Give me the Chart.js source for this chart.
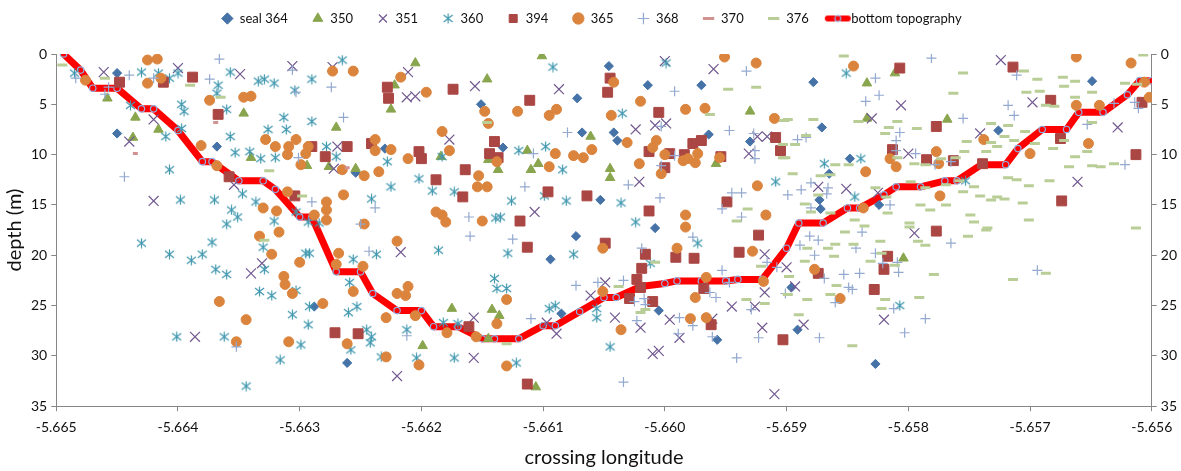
<!DOCTYPE html>
<html>
<head>
<meta charset="utf-8">
<script src="https://cdn.jsdelivr.net/npm/chart.js@4.4.1/dist/chart.umd.min.js"></script>
<style>
  html, body { margin: 0; padding: 0; background: #fff; }
  #wrap { position: relative; width: 1181px; height: 471px; }
</style>
</head>
<body>
<div id="wrap"><canvas id="depthChart"></canvas></div>
<script>
// ---- axis ticks ----
const xTickValues = [-5.665, -5.664, -5.663, -5.662, -5.661, -5.66, -5.659, -5.658, -5.657, -5.656];
const yTickValues = [0, 5, 10, 15, 20, 25, 30, 35];

// ---- dive positions: [crossing longitude, depth (m)] ----
const seal364 = [
  [-5.6645, 1.9], [-5.6645, 7.9], [-5.66368, 9.2], [-5.66254, 11.8], [-5.6623, 9.4], [-5.66288, 25.1],
  [-5.66261, 30.7], [-5.66151, 5.0], [-5.66133, 9.3], [-5.66072, 4.4], [-5.66046, 1.2], [-5.66014, 3.1],
  [-5.6597, 3.1], [-5.66068, 7.8], [-5.66042, 7.8], [-5.66039, 8.6], [-5.65964, 8.0], [-5.6593, 8.7],
  [-5.66053, 14.5], [-5.66008, 17.3], [-5.66073, 18.1], [-5.66094, 20.4], [-5.66005, 25.5], [-5.65957, 28.4],
  [-5.66085, 25.8], [-5.65878, 2.8], [-5.65649, 2.7], [-5.65726, 7.6], [-5.65871, 7.3], [-5.65848, 10.4],
  [-5.65865, 11.9], [-5.65873, 14.5], [-5.65872, 15.4], [-5.65824, 15.0], [-5.65896, 23.2], [-5.65891, 27.4],
  [-5.65827, 30.8]
];
const seal350 = [
  [-5.66458, 4.4], [-5.66435, 6.3], [-5.66437, 8.3], [-5.66416, 7.5], [-5.66346, 5.9], [-5.6634, 10.3],
  [-5.66294, 11.1], [-5.6627, 7.3], [-5.66276, 11.2], [-5.66254, 11.4], [-5.66222, 3.1], [-5.66225, 5.5],
  [-5.66205, 0.9], [-5.66146, 2.5], [-5.66101, 0.2], [-5.66184, 10.2], [-5.66145, 10.5], [-5.66137, 11.5],
  [-5.66113, 9.6], [-5.66104, 10.9], [-5.6611, 11.5], [-5.66061, 8.2], [-5.66045, 11.4], [-5.66045, 12.3],
  [-5.65958, 10.9], [-5.6593, 5.7], [-5.66175, 25.3], [-5.66142, 25.4], [-5.66136, 26.0], [-5.66145, 28.3],
  [-5.66199, 29.0], [-5.66106, 33.1], [-5.65834, 2.9], [-5.65811, 1.9], [-5.65834, 6.4], [-5.65768, 6.5],
  [-5.65804, 20.3]
];
const seal351 = [
  [-5.66461, 1.8], [-5.6644, 8.7], [-5.6642, 14.6], [-5.664, 1.4], [-5.6642, 6.5], [-5.66349, 2.0],
  [-5.66354, 13.0], [-5.66306, 1.2], [-5.66273, 1.3], [-5.66269, 9.2], [-5.66272, 11.4], [-5.66386, 28.1],
  [-5.6634, 21.8], [-5.66331, 20.8], [-5.6622, 32.0], [-5.66211, 1.8], [-5.66212, 4.3], [-5.66205, 4.2],
  [-5.66156, 3.2], [-5.66087, 3.5], [-5.66, 0.7], [-5.6596, 1.5], [-5.66177, 8.5], [-5.66024, 7.5],
  [-5.66008, 7.1], [-5.65999, 6.9], [-5.65924, 8.2], [-5.65916, 8.2], [-5.65931, 9.9], [-5.66021, 12.7],
  [-5.66107, 15.7], [-5.66217, 19.7], [-5.66049, 22.7], [-5.66061, 24.0], [-5.66041, 26.2], [-5.6602, 27.2],
  [-5.65996, 26.4], [-5.65988, 28.2], [-5.6601, 29.8], [-5.66005, 29.5], [-5.65961, 26.3], [-5.65945, 25.1],
  [-5.65926, 25.1], [-5.6592, 27.2], [-5.6591, 33.8], [-5.65918, 19.9], [-5.65918, 23.7], [-5.66157, 26.2],
  [-5.66157, 30.2], [-5.66089, 27.8], [-5.66097, 26.7], [-5.65724, 0.6], [-5.65698, 4.8], [-5.65628, 7.3],
  [-5.65661, 12.7], [-5.65741, 7.9], [-5.6583, 6.4], [-5.65806, 5.1], [-5.658, 9.9], [-5.65874, 13.2],
  [-5.65851, 13.4], [-5.65825, 13.8], [-5.65795, 17.8], [-5.659, 21.2], [-5.65893, 23.1], [-5.65886, 26.9],
  [-5.6582, 26.4]
];
const seal360 = [
  [-5.66485, 1.9], [-5.66439, 5.1], [-5.6643, 18.8], [-5.66416, 1.9], [-5.6643, 1.8], [-5.66407, 2.4],
  [-5.664, 1.9], [-5.6641, 8.2], [-5.66407, 11.5], [-5.66397, 5.0], [-5.66395, 5.7], [-5.66397, 7.4],
  [-5.66398, 14.5], [-5.66367, 3.1], [-5.66368, 3.9], [-5.6636, 5.5], [-5.66357, 1.8], [-5.66357, 8.2],
  [-5.66353, 9.8], [-5.66341, 9.7], [-5.66347, 13.9], [-5.6637, 14.5], [-5.66356, 15.5], [-5.66351, 16.2],
  [-5.6636, 16.9], [-5.66372, 18.7], [-5.66334, 2.7], [-5.66329, 2.5], [-5.66321, 2.9], [-5.66332, 10.4],
  [-5.66326, 7.5], [-5.6632, 10.3], [-5.66336, 14.7], [-5.66321, 16.6], [-5.66313, 6.3], [-5.66311, 7.5],
  [-5.6629, 2.5], [-5.66304, 3.6], [-5.6629, 6.7], [-5.66303, 15.7], [-5.66293, 16.7], [-5.66284, 16.8],
  [-5.66265, 0.6], [-5.66278, 9.2], [-5.6627, 10.2], [-5.66241, 14.4], [-5.66228, 10.7], [-5.66225, 13.2],
  [-5.66407, 19.9], [-5.66389, 20.5], [-5.6638, 19.9], [-5.66369, 21.4], [-5.6636, 21.9], [-5.66401, 28.1],
  [-5.66362, 28.1], [-5.66344, 33.0], [-5.66329, 21.4], [-5.66333, 23.6], [-5.66323, 24.0], [-5.6633, 19.2],
  [-5.66303, 23.5], [-5.66306, 25.9], [-5.66299, 28.9], [-5.66316, 30.4], [-5.66295, 19.8], [-5.66292, 19.8],
  [-5.66292, 25.1], [-5.66293, 26.9], [-5.66256, 20.4], [-5.66259, 22.7], [-5.66253, 25.1], [-5.6626, 25.7],
  [-5.66258, 29.4], [-5.66245, 27.4], [-5.66241, 28.1], [-5.66242, 28.7], [-5.66233, 30.1], [-5.66237, 19.9],
  [-5.66092, 1.3], [-5.65999, 0.9], [-5.66035, 5.9], [-5.66183, 10.2], [-5.6612, 9.6], [-5.66098, 9.2],
  [-5.66084, 11.5], [-5.66202, 12.4], [-5.66191, 13.6], [-5.66173, 13.7], [-5.66126, 14.6], [-5.66099, 14.1],
  [-5.66081, 14.6], [-5.66036, 14.8], [-5.66024, 16.7], [-5.65909, 12.7], [-5.66139, 16.3], [-5.66135, 16.2],
  [-5.66186, 19.5], [-5.66129, 19.8], [-5.66075, 19.9], [-5.65973, 18.8], [-5.66012, 20.8], [-5.66056, 26.2],
  [-5.66056, 25.3], [-5.66045, 29.1], [-5.66122, 30.7], [-5.66138, 23.3], [-5.6613, 23.3], [-5.6614, 22.3],
  [-5.66173, 30.2], [-5.66182, 26.7], [-5.6617, 26.8], [-5.66212, 27.4], [-5.66204, 30.2], [-5.66095, 25.3],
  [-5.6609, 25.0], [-5.65851, 1.9], [-5.65839, 10.4], [-5.65869, 10.9], [-5.65844, 14.2], [-5.65807, 25.0],
  [-5.65753, 12.6]
];
const seal394 = [
  [-5.66448, 2.8], [-5.66412, 2.8], [-5.66388, 2.3], [-5.66367, 6.0], [-5.66358, 12.2], [-5.6629, 9.2],
  [-5.66304, 14.1], [-5.66261, 9.2], [-5.66279, 10.2], [-5.66241, 8.9], [-5.66228, 3.3], [-5.66227, 4.4],
  [-5.66271, 27.7], [-5.66252, 27.8], [-5.66174, 3.5], [-5.66111, 4.6], [-5.66045, 2.4], [-5.66047, 3.8],
  [-5.66005, 5.8], [-5.66202, 9.7], [-5.662, 10.4], [-5.6614, 8.7], [-5.66144, 9.9], [-5.66137, 10.3],
  [-5.66188, 12.5], [-5.66164, 11.5], [-5.66166, 14.2], [-5.66096, 13.7], [-5.66064, 14.1], [-5.66, 11.3],
  [-5.66013, 9.7], [-5.65996, 9.9], [-5.65984, 10.0], [-5.65977, 8.9], [-5.6597, 8.6], [-5.65954, 10.2],
  [-5.65909, 8.3], [-5.65905, 9.6], [-5.65949, 14.7], [-5.66013, 15.6], [-5.66119, 16.6], [-5.66113, 19.2],
  [-5.66049, 18.8], [-5.65991, 20.2], [-5.65976, 20.3], [-5.66016, 19.9], [-5.66019, 21.3], [-5.66023, 22.4],
  [-5.6602, 23.2], [-5.66029, 24.3], [-5.6601, 24.6], [-5.65962, 26.9], [-5.65968, 23.3], [-5.65939, 19.7],
  [-5.65923, 18.0], [-5.65903, 28.4], [-5.66161, 27.1], [-5.66113, 32.8], [-5.65807, 1.4], [-5.65714, 1.3],
  [-5.65608, 4.8], [-5.65683, 4.6], [-5.65613, 10.0], [-5.65674, 14.6], [-5.65675, 8.4], [-5.65739, 10.9],
  [-5.65777, 7.2], [-5.65785, 10.5], [-5.65763, 10.6], [-5.65813, 9.5], [-5.65777, 17.6], [-5.65817, 20.1],
  [-5.6582, 21.4], [-5.65828, 23.4], [-5.65874, 21.8]
];
const seal365 = [
  [-5.66476, 2.6], [-5.66425, 0.6], [-5.66417, 0.5], [-5.66425, 2.9], [-5.66414, 2.4], [-5.66374, 4.6],
  [-5.66381, 9.1], [-5.66368, 11.1], [-5.66346, 4.3], [-5.6634, 4.2], [-5.66328, 8.5], [-5.6632, 9.2],
  [-5.6633, 15.3], [-5.66319, 15.6], [-5.66317, 17.7], [-5.66333, 18.1], [-5.66303, 8.5], [-5.66309, 9.2],
  [-5.6631, 10.0], [-5.66293, 9.2], [-5.66295, 9.9], [-5.66299, 11.0], [-5.6631, 13.7], [-5.66288, 16.0],
  [-5.66273, 1.7], [-5.66256, 1.7], [-5.66265, 11.5], [-5.66247, 12.1], [-5.66264, 14.0], [-5.66247, 16.9],
  [-5.66278, 14.7], [-5.66278, 15.5], [-5.66278, 16.5], [-5.66238, 8.5], [-5.66238, 9.6], [-5.66225, 9.5],
  [-5.66235, 11.7], [-5.66366, 24.6], [-5.66352, 28.6], [-5.66344, 26.4], [-5.66323, 19.9], [-5.66313, 22.1],
  [-5.66312, 22.9], [-5.66306, 23.8], [-5.66309, 28.6], [-5.663, 20.7], [-5.66281, 24.8], [-5.66268, 19.8],
  [-5.6627, 20.9], [-5.66248, 21.1], [-5.66256, 23.6], [-5.66261, 28.8], [-5.66229, 30.1], [-5.66229, 26.2],
  [-5.6622, 23.8], [-5.6622, 18.6], [-5.66217, 2.3], [-5.66196, 3.8], [-5.66148, 5.7], [-5.66145, 6.9],
  [-5.66121, 5.7], [-5.66095, 6.1], [-5.66089, 5.5], [-5.66042, 2.8], [-5.6602, 4.7], [-5.66044, 6.1],
  [-5.65951, 0.3], [-5.65925, 0.9], [-5.65983, 5.5], [-5.65967, 5.4], [-5.6591, 6.4], [-5.66031, 8.8],
  [-5.66183, 7.7], [-5.66177, 9.6], [-5.66211, 10.4], [-5.66138, 10.7], [-5.6609, 9.9], [-5.66075, 10.1],
  [-5.66067, 10.3], [-5.6606, 9.5], [-5.66095, 11.2], [-5.66153, 12.1], [-5.66154, 13.2], [-5.66146, 13.2],
  [-5.6601, 9.3], [-5.66007, 8.6], [-5.66, 10.0], [-5.66021, 10.9], [-5.66003, 11.9], [-5.65985, 10.6],
  [-5.65981, 10.4], [-5.65975, 10.8], [-5.65973, 9.9], [-5.65955, 10.3], [-5.65924, 13.1], [-5.65917, 16.0],
  [-5.65983, 16.0], [-5.65983, 17.2], [-5.66188, 15.7], [-5.66183, 16.0], [-5.6618, 16.7], [-5.6615, 16.6],
  [-5.66051, 19.3], [-5.6599, 19.3], [-5.66051, 23.6], [-5.66036, 27.4], [-5.65979, 26.3], [-5.65966, 26.2],
  [-5.65975, 24.2], [-5.65966, 22.2], [-5.65928, 19.6], [-5.65919, 22.6], [-5.6613, 31.0], [-5.66138, 26.8],
  [-5.6613, 24.4], [-5.66155, 28.1], [-5.66179, 27.7], [-5.66205, 26.0], [-5.66202, 30.9], [-5.66213, 24.0],
  [-5.66211, 23.1], [-5.65845, 1.2], [-5.65662, 0.3], [-5.65617, 0.9], [-5.65606, 2.8], [-5.65602, 4.3],
  [-5.65662, 5.1], [-5.65643, 5.1], [-5.65652, 8.9], [-5.657, 9.9], [-5.65738, 8.5], [-5.65777, 9.7],
  [-5.65775, 10.9], [-5.65774, 14.1], [-5.65815, 10.4], [-5.6581, 11.2], [-5.65835, 11.7], [-5.65837, 15.3],
  [-5.65877, 21.4], [-5.65856, 24.3]
];
const seal368 = [
  [-5.66484, 2.4], [-5.66457, 3.3], [-5.6646, 4.0], [-5.66444, 12.2], [-5.6642, 2.4], [-5.6644, 2.1],
  [-5.66374, 2.5], [-5.66366, 0.5], [-5.66306, 1.6], [-5.66303, 3.8], [-5.66301, 10.3], [-5.6629, 14.7],
  [-5.66274, 3.3], [-5.66264, 6.3], [-5.6625, 16.9], [-5.66238, 15.3], [-5.66352, 29.1], [-5.66243, 19.6],
  [-5.65992, 3.7], [-5.65933, 1.7], [-5.6608, 7.8], [-5.66003, 7.2], [-5.65947, 7.6], [-5.65927, 7.9],
  [-5.65926, 9.6], [-5.65926, 10.4], [-5.66108, 9.9], [-5.66115, 13.2], [-5.6603, 13.0], [-5.66004, 14.3],
  [-5.65992, 10.1], [-5.66003, 11.1], [-5.65945, 13.8], [-5.65937, 13.8], [-5.65953, 15.4], [-5.65937, 16.2],
  [-5.66161, 16.2], [-5.6616, 18.1], [-5.66125, 18.4], [-5.65977, 18.2], [-5.66019, 19.3], [-5.66055, 22.7],
  [-5.66034, 22.5], [-5.66034, 32.6], [-5.66025, 24.6], [-5.66017, 24.3], [-5.66016, 24.9], [-5.66023, 26.5],
  [-5.65988, 26.2], [-5.65989, 27.8], [-5.65977, 27.0], [-5.65961, 28.1], [-5.65941, 30.2], [-5.65963, 23.7],
  [-5.65958, 24.2], [-5.65953, 21.5], [-5.65947, 22.7], [-5.65929, 25.4], [-5.65923, 28.2], [-5.65916, 20.7],
  [-5.65908, 21.2], [-5.66212, 28.0], [-5.6611, 26.3], [-5.66073, 23.0], [-5.65827, 2.4], [-5.65781, 0.4],
  [-5.65711, 2.1], [-5.65622, 11.0], [-5.65653, 7.0], [-5.65718, 5.1], [-5.65713, 6.1], [-5.65755, 6.4],
  [-5.65778, 11.0], [-5.65765, 10.7], [-5.65835, 4.7], [-5.65824, 4.1], [-5.65807, 7.8], [-5.6581, 8.6],
  [-5.6581, 9.6], [-5.65794, 9.9], [-5.65891, 8.5], [-5.65884, 8.3], [-5.65899, 14.0], [-5.65888, 13.5],
  [-5.6588, 12.8], [-5.65866, 13.3], [-5.65867, 13.9], [-5.65815, 15.0], [-5.6588, 15.3], [-5.65881, 18.1],
  [-5.65874, 18.5], [-5.65889, 19.0], [-5.65877, 20.0], [-5.65869, 22.3], [-5.65843, 19.3], [-5.65838, 17.7],
  [-5.65853, 21.9], [-5.6584, 21.8], [-5.65849, 23.2], [-5.65846, 23.4], [-5.6586, 24.7], [-5.65827, 19.8],
  [-5.65821, 20.8], [-5.65809, 20.7], [-5.65808, 21.7], [-5.65901, 23.8], [-5.65873, 28.2], [-5.65812, 25.3],
  [-5.65803, 27.7], [-5.65786, 26.3], [-5.65765, 18.8], [-5.65694, 21.5], [-5.65614, 4.8], [-5.65611, 5.4],
  [-5.65631, 4.9]
];
const seal370 = [
  [-5.66435, 9.9], [-5.66369, 6.8], [-5.66261, 11.3]
];
const seal376 = [
  [-5.66495, 1.1], [-5.6646, 2.4], [-5.6639, 3.1], [-5.66365, 4.3], [-5.66325, 11.6], [-5.66329, 18.5],
  [-5.66298, 14.1], [-5.66146, 6.8], [-5.6613, 28.8], [-5.66008, 20.7], [-5.66038, 23.1], [-5.6602, 25.7],
  [-5.66016, 25.4], [-5.65948, 3.5], [-5.65925, 3.3], [-5.65963, 6.0], [-5.65902, 6.6], [-5.65903, 9.0],
  [-5.65903, 10.3], [-5.65932, 15.4], [-5.65941, 16.6], [-5.65933, 24.4], [-5.65918, 24.8], [-5.65921, 21.1],
  [-5.65853, 0.2], [-5.65755, 1.9], [-5.65763, 3.9], [-5.65705, 1.7], [-5.65673, 2.3], [-5.65672, 3.2],
  [-5.65663, 2.7], [-5.65694, 2.5], [-5.65692, 3.7], [-5.65703, 3.8], [-5.65649, 3.8], [-5.65622, 2.9],
  [-5.65612, 3.0], [-5.65607, 0.1], [-5.65663, 4.3], [-5.65687, 5.1], [-5.6568, 5.2], [-5.65649, 6.8],
  [-5.65732, 6.9], [-5.65718, 7.1], [-5.65704, 7.7], [-5.65721, 8.2], [-5.65732, 8.8], [-5.65736, 9.7],
  [-5.65752, 8.7], [-5.65793, 7.4], [-5.65816, 7.3], [-5.65809, 6.7], [-5.65819, 7.9], [-5.65841, 6.7],
  [-5.65878, 6.5], [-5.65899, 6.5], [-5.65884, 8.1], [-5.65893, 9.0], [-5.65901, 10.3], [-5.6586, 11.0],
  [-5.65849, 11.0], [-5.65895, 11.9], [-5.65872, 12.1], [-5.65864, 12.0], [-5.65809, 10.3], [-5.65795, 10.9],
  [-5.65786, 11.0], [-5.65773, 10.4], [-5.65761, 10.3], [-5.65754, 9.7], [-5.65727, 9.2], [-5.65713, 8.6],
  [-5.65696, 8.9], [-5.65681, 9.4], [-5.65672, 8.6], [-5.65653, 9.7], [-5.65663, 10.2], [-5.65668, 11.2],
  [-5.65649, 11.1], [-5.65642, 11.2], [-5.65631, 10.9], [-5.65718, 12.3], [-5.65711, 12.5], [-5.65701, 13.1],
  [-5.65684, 12.6], [-5.65746, 13.2], [-5.65755, 13.7], [-5.65769, 13.0], [-5.65786, 13.3], [-5.65798, 12.7],
  [-5.65758, 12.6], [-5.65769, 15.0], [-5.6579, 15.0], [-5.65782, 15.5], [-5.65741, 14.1], [-5.65727, 14.2],
  [-5.65721, 14.4], [-5.65706, 14.8], [-5.65732, 14.5], [-5.65749, 16.0], [-5.65746, 16.7], [-5.65735, 17.3],
  [-5.65701, 16.5], [-5.65799, 16.8], [-5.65836, 17.1], [-5.65844, 16.5], [-5.65818, 14.2], [-5.65827, 13.3],
  [-5.65885, 14.9], [-5.6588, 15.7], [-5.65864, 15.8], [-5.65874, 14.0], [-5.65817, 15.8], [-5.65613, 17.3],
  [-5.65852, 17.7], [-5.65823, 18.6], [-5.6586, 18.9], [-5.65866, 19.3], [-5.65845, 18.9], [-5.65883, 19.3],
  [-5.65861, 20.1], [-5.65885, 20.6], [-5.65831, 20.6], [-5.65822, 19.8], [-5.65811, 21.0], [-5.65799, 17.2],
  [-5.65792, 18.6], [-5.65786, 19.0], [-5.65751, 18.1], [-5.65736, 17.5], [-5.65779, 21.9], [-5.65714, 22.4],
  [-5.65687, 21.8], [-5.65791, 24.2], [-5.65819, 24.4], [-5.65822, 25.3], [-5.65859, 23.0], [-5.65864, 23.9],
  [-5.65883, 24.4], [-5.65899, 23.9], [-5.65898, 22.1], [-5.6589, 25.9], [-5.65846, 29.0]
];
const bottomTopography = [
  [-5.66494, 0], [-5.6648, 1.6], [-5.6647, 3.4], [-5.6645, 3.4], [-5.6643, 5.45], [-5.6642, 5.45],
  [-5.664, 7.6], [-5.6638, 10.7], [-5.66372, 10.7], [-5.6635, 12.6], [-5.6633, 12.6], [-5.6632, 13.45],
  [-5.663, 16.2], [-5.6629, 16.2], [-5.6627, 21.65], [-5.6625, 21.65], [-5.6624, 23.8], [-5.6622, 25.5],
  [-5.662, 25.5], [-5.6619, 27.1], [-5.6617, 27.1], [-5.6615, 28.3], [-5.6614, 28.3], [-5.6612, 28.3],
  [-5.661, 27.0], [-5.6609, 27.0], [-5.6607, 25.6], [-5.6605, 24.2], [-5.6604, 24.2], [-5.6602, 23.1],
  [-5.66, 22.8], [-5.6599, 22.55], [-5.6597, 22.55], [-5.6595, 22.55], [-5.6594, 22.4], [-5.6592, 22.4],
  [-5.659, 19.3], [-5.6589, 16.8], [-5.6587, 16.8], [-5.6585, 15.3], [-5.6584, 15.3], [-5.6582, 14.0],
  [-5.6581, 13.2], [-5.6579, 13.2], [-5.6577, 12.6], [-5.6576, 12.6], [-5.6574, 11.0], [-5.6572, 11.0],
  [-5.6571, 9.4], [-5.6569, 7.5], [-5.6567, 7.5], [-5.6566, 5.8], [-5.6564, 5.8], [-5.6562, 4.05],
  [-5.6561, 2.65], [-5.656, 2.65]
];

const FONT = "Lato, 'Open Sans', sans-serif";
const AXIS_GREY = "#868686";
const TEXT = "#111";

function toPoints(pairs) {
  return pairs.map(([x, y]) => ({ x, y }));
}

// Excel-like asterisk marker (vertical bar + X)
function makeStar(color) {
  const c = document.createElement("canvas");
  c.width = 11;
  c.height = 11;
  const g = c.getContext("2d");
  g.strokeStyle = color;
  g.lineWidth = 1.2;
  g.beginPath();
  g.moveTo(5.5, 0.5); g.lineTo(5.5, 10.5);
  g.moveTo(1, 2); g.lineTo(10, 9);
  g.moveTo(10, 2); g.lineTo(1, 9);
  g.stroke();
  return c;
}

// legend icon: thick red line with a small circle marker
function makeTopoIcon() {
  const c = document.createElement("canvas");
  c.width = 30;
  c.height = 10;
  const g = c.getContext("2d");
  g.strokeStyle = "#FF0000";
  g.lineWidth = 6;
  g.lineCap = "round";
  g.beginPath();
  g.moveTo(4, 5); g.lineTo(24, 5);
  g.stroke();
  g.beginPath();
  g.arc(14, 5, 3, 0, Math.PI * 2);
  g.fillStyle = "#FF0000";
  g.fill();
  g.lineWidth = 1.2;
  g.strokeStyle = "#8DB3E2";
  g.stroke();
  return c;
}

const starIcon = makeStar("#4198AF");
const topoIcon = makeTopoIcon();

const seriesDefs = [
  { label: "seal 364", data: seal364, style: "rectRot", color: "#4572A7", radius: 4.6, border: 1 },
  { label: "350", data: seal350, style: "triangle", color: "#89A54E", radius: 5.5, border: 1 },
  { label: "351", data: seal351, style: "crossRot", color: "#71588F", radius: 7, border: 1.2 },
  { label: "360", data: seal360, style: starIcon, color: "#4198AF", radius: 5, border: 1 },
  { label: "394", data: seal394, style: "rect", color: "#AA4643", radius: 7, border: 1 },
  { label: "365", data: seal365, style: "circle", color: "#DB843D", radius: 5, border: 1 },
  { label: "368", data: seal368, style: "cross", color: "#93A9CF", radius: 5, border: 1.2 },
  { label: "370", data: seal370, style: "line", color: "#D19392", radius: 2.5, border: 3 },
  { label: "376", data: seal376, style: "line", color: "#B9CD96", radius: 5, border: 3 },
];

const datasets = seriesDefs.map((s, i) => ({
  label: s.label,
  data: toPoints(s.data),
  showLine: false,
  pointStyle: s.style,
  pointRadius: s.radius,
  pointBackgroundColor: s.color,
  pointBorderColor: s.color,
  pointBorderWidth: s.border,
  backgroundColor: s.color,
  borderColor: s.color,
  order: 20 - i,
}));

const topoIndex = datasets.length;
datasets.push({
  label: "bottom topography",
  data: toPoints(bottomTopography),
  showLine: true,
  borderColor: "#FF0000",
  backgroundColor: "#FF0000",
  borderWidth: 7,
  borderJoinStyle: "round",
  borderCapStyle: "round",
  tension: 0,
  pointStyle: "circle",
  pointRadius: 3.2,
  pointBackgroundColor: "#FF0000",
  pointBorderColor: "#8DB3E2",
  pointBorderWidth: 1.2,
  order: 30,
});

const tickFont = { family: FONT, size: 14 };
const titleFont = { family: FONT, size: 20 };

const yAxisBase = {
  type: "linear",
  reverse: true,
  min: 0,
  max: 35,
  afterBuildTicks: (axis) => {
    axis.ticks = yTickValues.map((v) => ({ value: v }));
  },
  ticks: { font: tickFont, color: TEXT, padding: 4 },
  grid: { drawOnChartArea: false, color: AXIS_GREY, tickLength: 5 },
  border: { color: AXIS_GREY },
};

new Chart(document.getElementById("depthChart").getContext("2d"), {
  type: "scatter",
  data: { datasets },
  options: {
    responsive: true,
    maintainAspectRatio: false,
    animation: false,
    events: [],
    layout: { padding: { left: 2, right: 0, top: -12, bottom: 1 } },
    scales: {
      x: {
        type: "linear",
        min: -5.665,
        max: -5.656,
        afterBuildTicks: (axis) => {
          axis.ticks = xTickValues.map((v) => ({ value: v }));
        },
        ticks: {
          font: tickFont,
          color: TEXT,
          padding: 8,
          maxRotation: 0,
          autoSkip: false,
          callback: (v) => Number(v).toFixed(3),
        },
        grid: { drawOnChartArea: false, color: AXIS_GREY, tickLength: 5 },
        border: { color: AXIS_GREY },
        title: {
          display: true,
          text: "crossing longitude",
          font: titleFont,
          color: TEXT,
          padding: { top: 2, bottom: 0 },
        },
      },
      y: {
        ...yAxisBase,
        position: "left",
        title: {
          display: true,
          text: "depth (m)",
          font: titleFont,
          color: TEXT,
          padding: { top: 1, bottom: 0 },
        },
      },
      y2: {
        ...yAxisBase,
        position: "right",
      },
    },
    plugins: {
      tooltip: { enabled: false },
      // empty title used only as a gap between the legend and the plot
      title: {
        display: true,
        text: "",
        weight: 500,
        font: { size: 10 },
        padding: { top: 0, bottom: 7 },
      },
      legend: {
        position: "top",
        labels: {
          usePointStyle: true,
          boxHeight: 8,
          boxWidth: 12,
          padding: 24,
          color: TEXT,
          font: { family: FONT, size: 13 },
          sort: (a, b) => a.datasetIndex - b.datasetIndex,
          generateLabels: (chart) => {
            const items = Chart.defaults.plugins.legend.labels.generateLabels(chart);
            items.forEach((item) => {
              if (item.datasetIndex === topoIndex) {
                item.pointStyle = topoIcon;
              }
            });
            return items;
          },
        },
      },
    },
  },
});
</script>
</body>
</html>
